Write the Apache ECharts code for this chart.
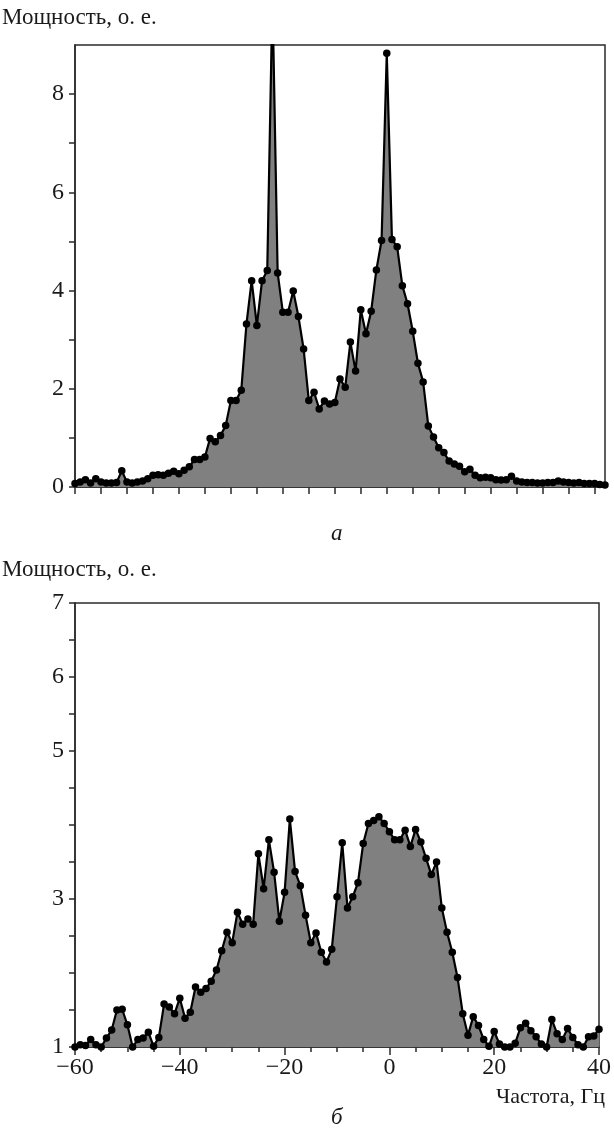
<!DOCTYPE html>
<html>
<head>
<meta charset="utf-8">
<script src="https://cdn.jsdelivr.net/npm/echarts@6/dist/echarts.min.js"></script>
<style>
html,body{margin:0;padding:0;background:#fff;}
#chart{width:614px;height:1129px;}
</style>
</head>
<body>
<div id="chart"></div>
<script>
// ---- Panel "а" (top) ----
const freqTop = [-60,-59,-58,-57,-56,-55,-54,-53,-52,-51,-50,-49,-48,-47,-46,-45,-44,-43,-42,-41,
  -40,-39,-38,-37,-36,-35,-34,-33,-32,-31,-30,-29,-28,-27,-26,-25,-24,-23,-22,-21,
  -20,-19,-18,-17,-16,-15,-14,-13,-12,-11,-10,-9,-8,-7,-6,-5,-4,-3,-2,-1,
  0,1,2,3,4,5,6,7,8,9,10,11,12,13,14,15,16,17,18,19,
  20,21,22,23,24,25,26,27,28,29,30,31,32,33,34,35,36,37,38,39,40,41,42];
const powerTop = [0.07,0.10,0.15,0.08,0.17,0.10,0.08,0.08,0.09,0.33,0.10,0.08,0.10,0.12,0.17,0.24,0.25,0.24,0.28,0.32,
  0.27,0.34,0.41,0.56,0.56,0.61,0.99,0.92,1.05,1.25,1.76,1.76,1.97,3.32,4.20,3.29,4.20,4.41,10.0,4.36,
  3.56,3.56,3.99,3.47,2.81,1.76,1.93,1.59,1.75,1.69,1.72,2.20,2.03,2.95,2.36,3.61,3.12,3.58,4.42,5.02,
  8.83,5.04,4.89,4.10,3.73,3.17,2.52,2.14,1.24,1.02,0.80,0.70,0.53,0.47,0.42,0.31,0.36,0.24,0.19,0.20,
  0.19,0.15,0.14,0.15,0.22,0.12,0.10,0.09,0.09,0.08,0.08,0.09,0.09,0.12,0.10,0.09,0.08,0.09,0.07,0.07,0.07,0.05,0.04];
const topYLabels = [0, 2, 4, 6, 8];
const topYTicks = [0, 1, 2, 3, 4, 5, 6, 7, 8];
const topXTicks = [-60,-55,-50,-45,-40,-35,-30,-25,-20,-15,-10,-5,0,5,10,15,20,25,30,35,40];

// ---- Panel "б" (bottom) ----
const freqBottom = [-60,-59,-58,-57,-56,-55,-54,-53,-52,-51,-50,-49,-48,-47,-46,-45,-44,-43,-42,-41,
  -40,-39,-38,-37,-36,-35,-34,-33,-32,-31,-30,-29,-28,-27,-26,-25,-24,-23,-22,-21,
  -20,-19,-18,-17,-16,-15,-14,-13,-12,-11,-10,-9,-8,-7,-6,-5,-4,-3,-2,-1,
  0,1,2,3,4,5,6,7,8,9,10,11,12,13,14,15,16,17,18,19,
  20,21,22,23,24,25,26,27,28,29,30,31,32,33,34,35,36,37,38,39,40];
const powerBottom = [1.00,1.03,1.02,1.10,1.03,1.00,1.12,1.23,1.50,1.51,1.30,1.00,1.10,1.12,1.20,1.01,1.13,1.58,1.54,1.45,
  1.66,1.39,1.47,1.81,1.74,1.79,1.89,2.04,2.30,2.55,2.41,2.82,2.66,2.73,2.66,3.61,3.14,3.80,3.36,2.70,
  3.09,4.08,3.37,3.18,2.78,2.41,2.54,2.28,2.15,2.32,3.03,3.76,2.88,3.03,3.22,3.75,4.02,4.06,4.11,4.02,
  3.91,3.80,3.80,3.93,3.71,3.94,3.77,3.55,3.33,3.50,2.88,2.55,2.28,1.94,1.45,1.16,1.41,1.29,1.10,1.01,
  1.21,1.04,1.00,1.00,1.05,1.26,1.32,1.22,1.14,1.04,1.00,1.37,1.18,1.10,1.25,1.13,1.03,1.00,1.14,1.15,1.24];
const bottomYLabels = [1, 3, 5, 6, 7];
const bottomXLabels = [-60, -40, -20, 0, 20, 40];

const yTitle = 'Мощность, о. е.';
const xTitle = 'Частота, Гц';
const captionTop = 'а';
const captionBottom = 'б';

const FONT = '"Liberation Serif", "Times New Roman", serif';
const INK = '#1a1a1a';
const AXIS = '#2a2a2a';

function fmtNum(v) { return String(v).replace('-', '\u2212'); }

const axisLine = { show: true, onZero: false, lineStyle: { color: AXIS, width: 1.5 } };
const tickStyle = { color: AXIS, width: 1.5 };

const chart = echarts.init(document.getElementById('chart'), null, { renderer: 'canvas' });
chart.setOption({
  animation: false,
  backgroundColor: '#fff',
  grid: [
    { left: 75, right: 9, top: 45, height: 442, show: true, borderColor: AXIS, borderWidth: 1.5, backgroundColor: 'transparent' },
    { left: 75, right: 9, top: 603, height: 444, show: true, borderColor: AXIS, borderWidth: 1.5, backgroundColor: 'transparent' }
  ],
  xAxis: [
    { gridIndex: 0, type: 'value', min: -60, max: 42, interval: 5,
      axisLine: axisLine, axisTick: { show: true, length: 7, lineStyle: tickStyle, customValues: topXTicks },
      axisLabel: { show: false }, splitLine: { show: false } },
    { gridIndex: 1, type: 'value', min: -60, max: 40, interval: 20,
      axisLine: axisLine, axisTick: { show: true, length: 8, lineStyle: tickStyle },
      minorTick: { show: true, splitNumber: 4, length: 5, lineStyle: tickStyle },
      minorSplitLine: { show: false },
      axisLabel: { show: true, margin: 9, color: INK, fontFamily: FONT, fontSize: 24,
        formatter: v => bottomXLabels.includes(v) ? fmtNum(v) : '' },
      splitLine: { show: false } }
  ],
  yAxis: [
    { gridIndex: 0, type: 'value', min: 0, max: 9, interval: 1,
      axisLine: axisLine, axisTick: { show: true, length: 6, lineStyle: tickStyle, customValues: topYTicks },
      axisLabel: { show: true, margin: 11, color: INK, fontFamily: FONT, fontSize: 24,
        formatter: v => topYLabels.includes(v) ? fmtNum(v) : '' },
      splitLine: { show: false } },
    { gridIndex: 1, type: 'value', min: 1, max: 7, interval: 0.5,
      axisLine: axisLine, axisTick: { show: true, length: 6, lineStyle: tickStyle },
      axisLabel: { show: true, margin: 11, color: INK, fontFamily: FONT, fontSize: 24,
        formatter: v => bottomYLabels.includes(v) ? fmtNum(v) : '' },
      splitLine: { show: false } }
  ],
  series: [
    { type: 'line', xAxisIndex: 0, yAxisIndex: 0, clip: true,
      data: freqTop.map((f, i) => [f, powerTop[i]]),
      symbol: 'circle', symbolSize: 7.5, showSymbol: true,
      itemStyle: { color: '#000' },
      lineStyle: { color: '#000', width: 2.2 },
      areaStyle: { color: '#808080', opacity: 1, origin: 'start' } },
    { type: 'line', xAxisIndex: 1, yAxisIndex: 1, clip: true,
      data: freqBottom.map((f, i) => [f, powerBottom[i]]),
      symbol: 'circle', symbolSize: 7.5, showSymbol: true,
      itemStyle: { color: '#000' },
      lineStyle: { color: '#000', width: 2.2 },
      areaStyle: { color: '#808080', opacity: 1, origin: 'start' } }
  ],
  graphic: [
    { type: 'text', left: 2, top: 6, style: { text: yTitle, font: '23px ' + FONT, fill: INK } },
    { type: 'text', left: 331, top: 522, style: { text: captionTop, font: 'italic 23px ' + FONT, fill: INK } },
    { type: 'text', left: 2, top: 558, style: { text: yTitle, font: '23px ' + FONT, fill: INK } },
    { type: 'text', right: 9, top: 1086, style: { text: xTitle, font: '22px ' + FONT, fill: INK } },
    { type: 'text', left: 331, top: 1106, style: { text: captionBottom, font: 'italic 23px ' + FONT, fill: INK } }
  ]
});
</script>
</body>
</html>
